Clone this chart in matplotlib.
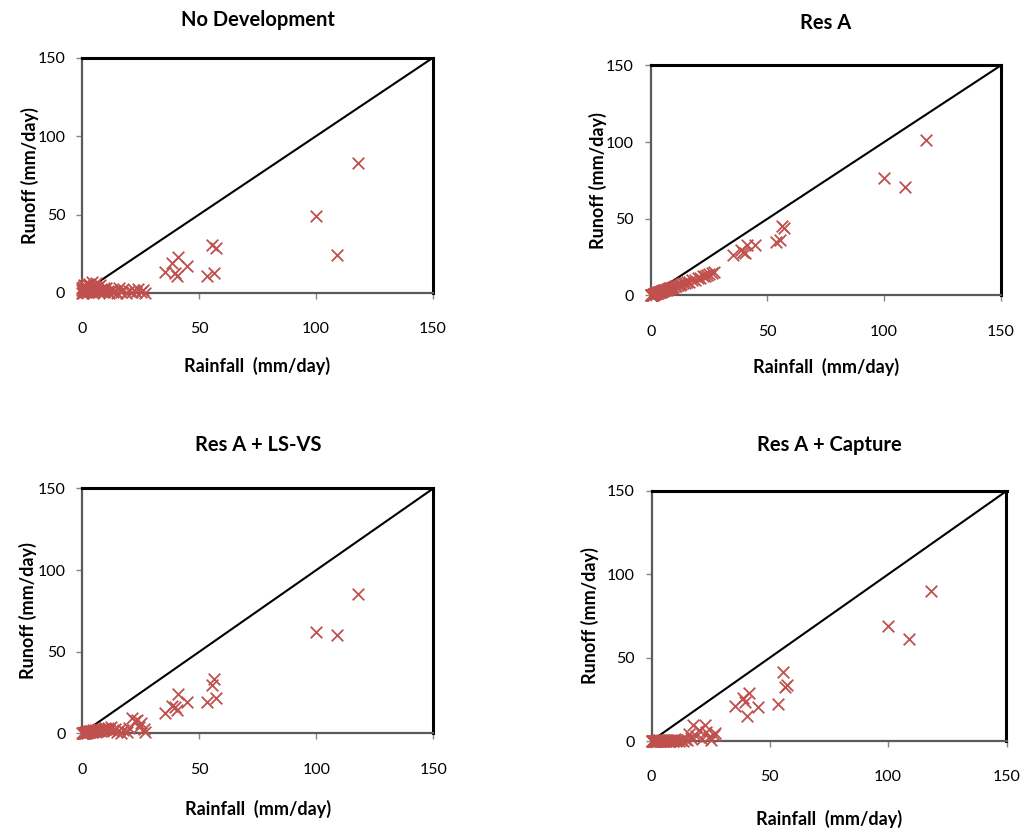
import matplotlib
matplotlib.use('Agg')
import matplotlib.pyplot as plt

plt.rcParams['font.family'] = ['Lato', 'DejaVu Sans']

# Rainfall events (mm/day) - same events in every scenario
rain_small = [0.0, 0.1, 0.2, 0.5, 0.8, 1.0, 1.3, 1.6, 2.0, 2.3, 2.7, 3.0, 3.4, 3.8, 4.1,
              4.5, 5.0, 5.4, 5.9, 6.3, 6.8, 7.2, 7.7, 8.3, 8.9, 9.5, 10.2, 10.9, 11.6,
              12.4, 13.1, 14.0, 14.8, 15.7, 16.5, 17.6, 18.9, 20.1, 21.3, 22.4, 23.2,
              24.1, 25.0, 26.2, 27.0,
              0.3, 0.6, 1.1, 1.8, 2.5, 3.2, 4.3, 5.2, 6.0, 7.0, 8.0, 9.2]
rain_large = [35.4, 38.5, 39.7, 40.5, 41.1, 44.8, 53.5, 55.6, 56.4, 57.2, 99.8, 109.0, 118.0]

# Runoff (mm/day) for each scenario
nodev_small = [0.0, 2.0, 3.5, 0.2, 5.0, 1.0, 4.2, 0.5, 6.0, 2.5, 0.8, 5.5, 1.5, 3.0, 7.0,
               0.3, 4.5, 2.0, 6.5, 1.2, 3.8, 0.6, 5.2, 2.8, 1.8, 0.4, 3.2, 1.0, 0.2,
               2.2, 0.5, 1.5, 0.0, 3.5, 0.8, 2.5, 0.3, 1.2, 0.6, 2.0, 0.4, 2.8, 0.9, 1.6, 0.3,
               1.0, 4.0, 2.5, 0.4, 4.8, 1.8, 3.0, 0.8, 4.0, 2.2, 1.0, 3.0]
nodev_large = [13.2, 18.9, 12.7, 10.8, 22.8, 17.4, 10.8, 30.6, 12.6, 28.5, 49.0, 24.2, 82.9]

resa_small = [0.0, 0.1, 0.3, 0.5, 0.6, 0.8, 1.0, 1.1, 1.4, 1.5, 1.9, 2.0, 2.2, 2.5, 2.6,
              2.9, 3.2, 3.3, 3.7, 3.8, 4.2, 4.3, 4.6, 5.0, 5.2, 5.6, 5.9, 6.3, 6.6,
              7.1, 7.4, 7.9, 8.2, 8.9, 9.1, 10.0, 10.4, 11.2, 11.6, 12.4, 12.7,
              13.5, 13.9, 14.8, 15.0,
              0.1, 0.4, 0.6, 1.0, 1.5, 1.8, 2.4, 3.0, 3.3, 3.9, 4.5, 5.1]
resa_large = [26.4, 29.7, 28.6, 28.0, 32.9, 32.9, 34.7, 36.2, 45.3, 43.8, 76.8, 71.0, 101.4]

lsvs_small = [0.0, 0.0, 0.1, 0.3, 0.2, 0.6, 0.4, 0.8, 0.5, 1.0, 0.7, 1.2, 0.9, 1.5, 1.1,
              1.8, 1.3, 2.0, 1.5, 2.3, 1.6, 2.5, 1.9, 2.8, 2.0, 3.2, 2.4, 3.5, 2.0,
              4.0, 1.5, 3.0, 0.8, 2.2, 0.5, 1.8, 0.6, 3.5, 9.2, 7.5, 8.3,
              4.0, 6.2, 2.5, 1.0,
              0.2, 0.1, 0.4, 0.9, 0.6, 1.4, 0.8, 1.7, 1.0, 2.1, 1.2, 2.6]
lsvs_large = [12.3, 17.0, 16.3, 14.3, 23.9, 19.0, 19.2, 29.5, 33.1, 21.9, 62.1, 60.1, 85.2]

capture_small = [0.0, 0.0, 0.0, 0.1, 0.0, 0.2, 0.0, 0.1, 0.3, 0.0, 0.2, 0.4, 0.1, 0.0, 0.3,
                 0.5, 0.2, 0.0, 0.4, 0.6, 0.1, 0.3, 0.0, 0.5, 0.2, 0.7, 0.1, 0.4, 0.0,
                 0.6, 0.3, 1.5, 0.5, 4.5, 2.0, 9.8, 3.0, 6.5, 1.0, 9.4, 5.5,
                 2.5, 0.8, 3.5, 4.8,
                 0.1, 0.0, 0.3, 0.0, 0.2, 0.5, 0.0, 0.3, 0.1, 0.6, 0.0, 0.4]
capture_large = [21.0, 25.6, 23.6, 15.2, 29.0, 20.6, 22.2, 41.2, 32.6, 33.4, 69.0, 61.4, 90.2]

titles = ['No Development', 'Res A', 'Res A + LS-VS', 'Res A + Capture']
runoffs = [nodev_small + nodev_large, resa_small + resa_large,
           lsvs_small + lsvs_large, capture_small + capture_large]
rainfall = rain_small + rain_large

W, H = 1026, 830
# axes boxes in pixels: left, top, right, bottom
boxes = [(82, 57.7, 433, 293), (650.7, 65.5, 1000.7, 295.5),
         (82.3, 488.4, 433.3, 733.4), (651.5, 491, 1006.5, 741)]
title_pads = [23, 26, 27, 29]
ylab_x = [-0.148, -0.151, -0.155, -0.173]

fig = plt.figure(figsize=(W / 100, H / 100), dpi=100)

for i in range(4):
    l, t, r, b = boxes[i]
    ax = fig.add_axes([l / W, 1 - b / H, (r - l) / W, (b - t) / H])
    ax.plot([0, 150], [0, 150], color='black', lw=1.5, zorder=2)
    ax.scatter(rainfall, runoffs[i], marker='x', s=70, color='#C0504D',
               linewidths=1.3, zorder=3, clip_on=False)
    ax.set_xlim(0, 150)
    ax.set_ylim(0, 150)
    ax.set_xticks([0, 50, 100, 150])
    ax.set_yticks([0, 50, 100, 150])
    for side in ['top', 'right']:
        ax.spines[side].set_color('black')
        ax.spines[side].set_linewidth(2.2)
    for side in ['left', 'bottom']:
        ax.spines[side].set_color('#5a5a5a')
        ax.spines[side].set_linewidth(1.6)
    ax.tick_params(axis='both', direction='out', length=4, width=1, color='#868686',
                   labelsize=11.5, labelcolor='black')
    ax.tick_params(axis='x', pad=17)
    ax.tick_params(axis='y', pad=8)
    ax.set_title(titles[i], fontsize=14.5, fontweight='bold', pad=title_pads[i])
    ax.set_xlabel('Rainfall  (mm/day)', fontsize=13, fontweight='bold')
    ax.set_ylabel('Runoff (mm/day)', fontsize=13, fontweight='bold')
    ax.xaxis.set_label_coords(0.5, -0.31)
    ax.xaxis.label.set_va('center')
    ax.yaxis.set_label_coords(ylab_x[i], 0.5)
    ax.yaxis.label.set_va('center')

fig.savefig('out.png', dpi=100)
